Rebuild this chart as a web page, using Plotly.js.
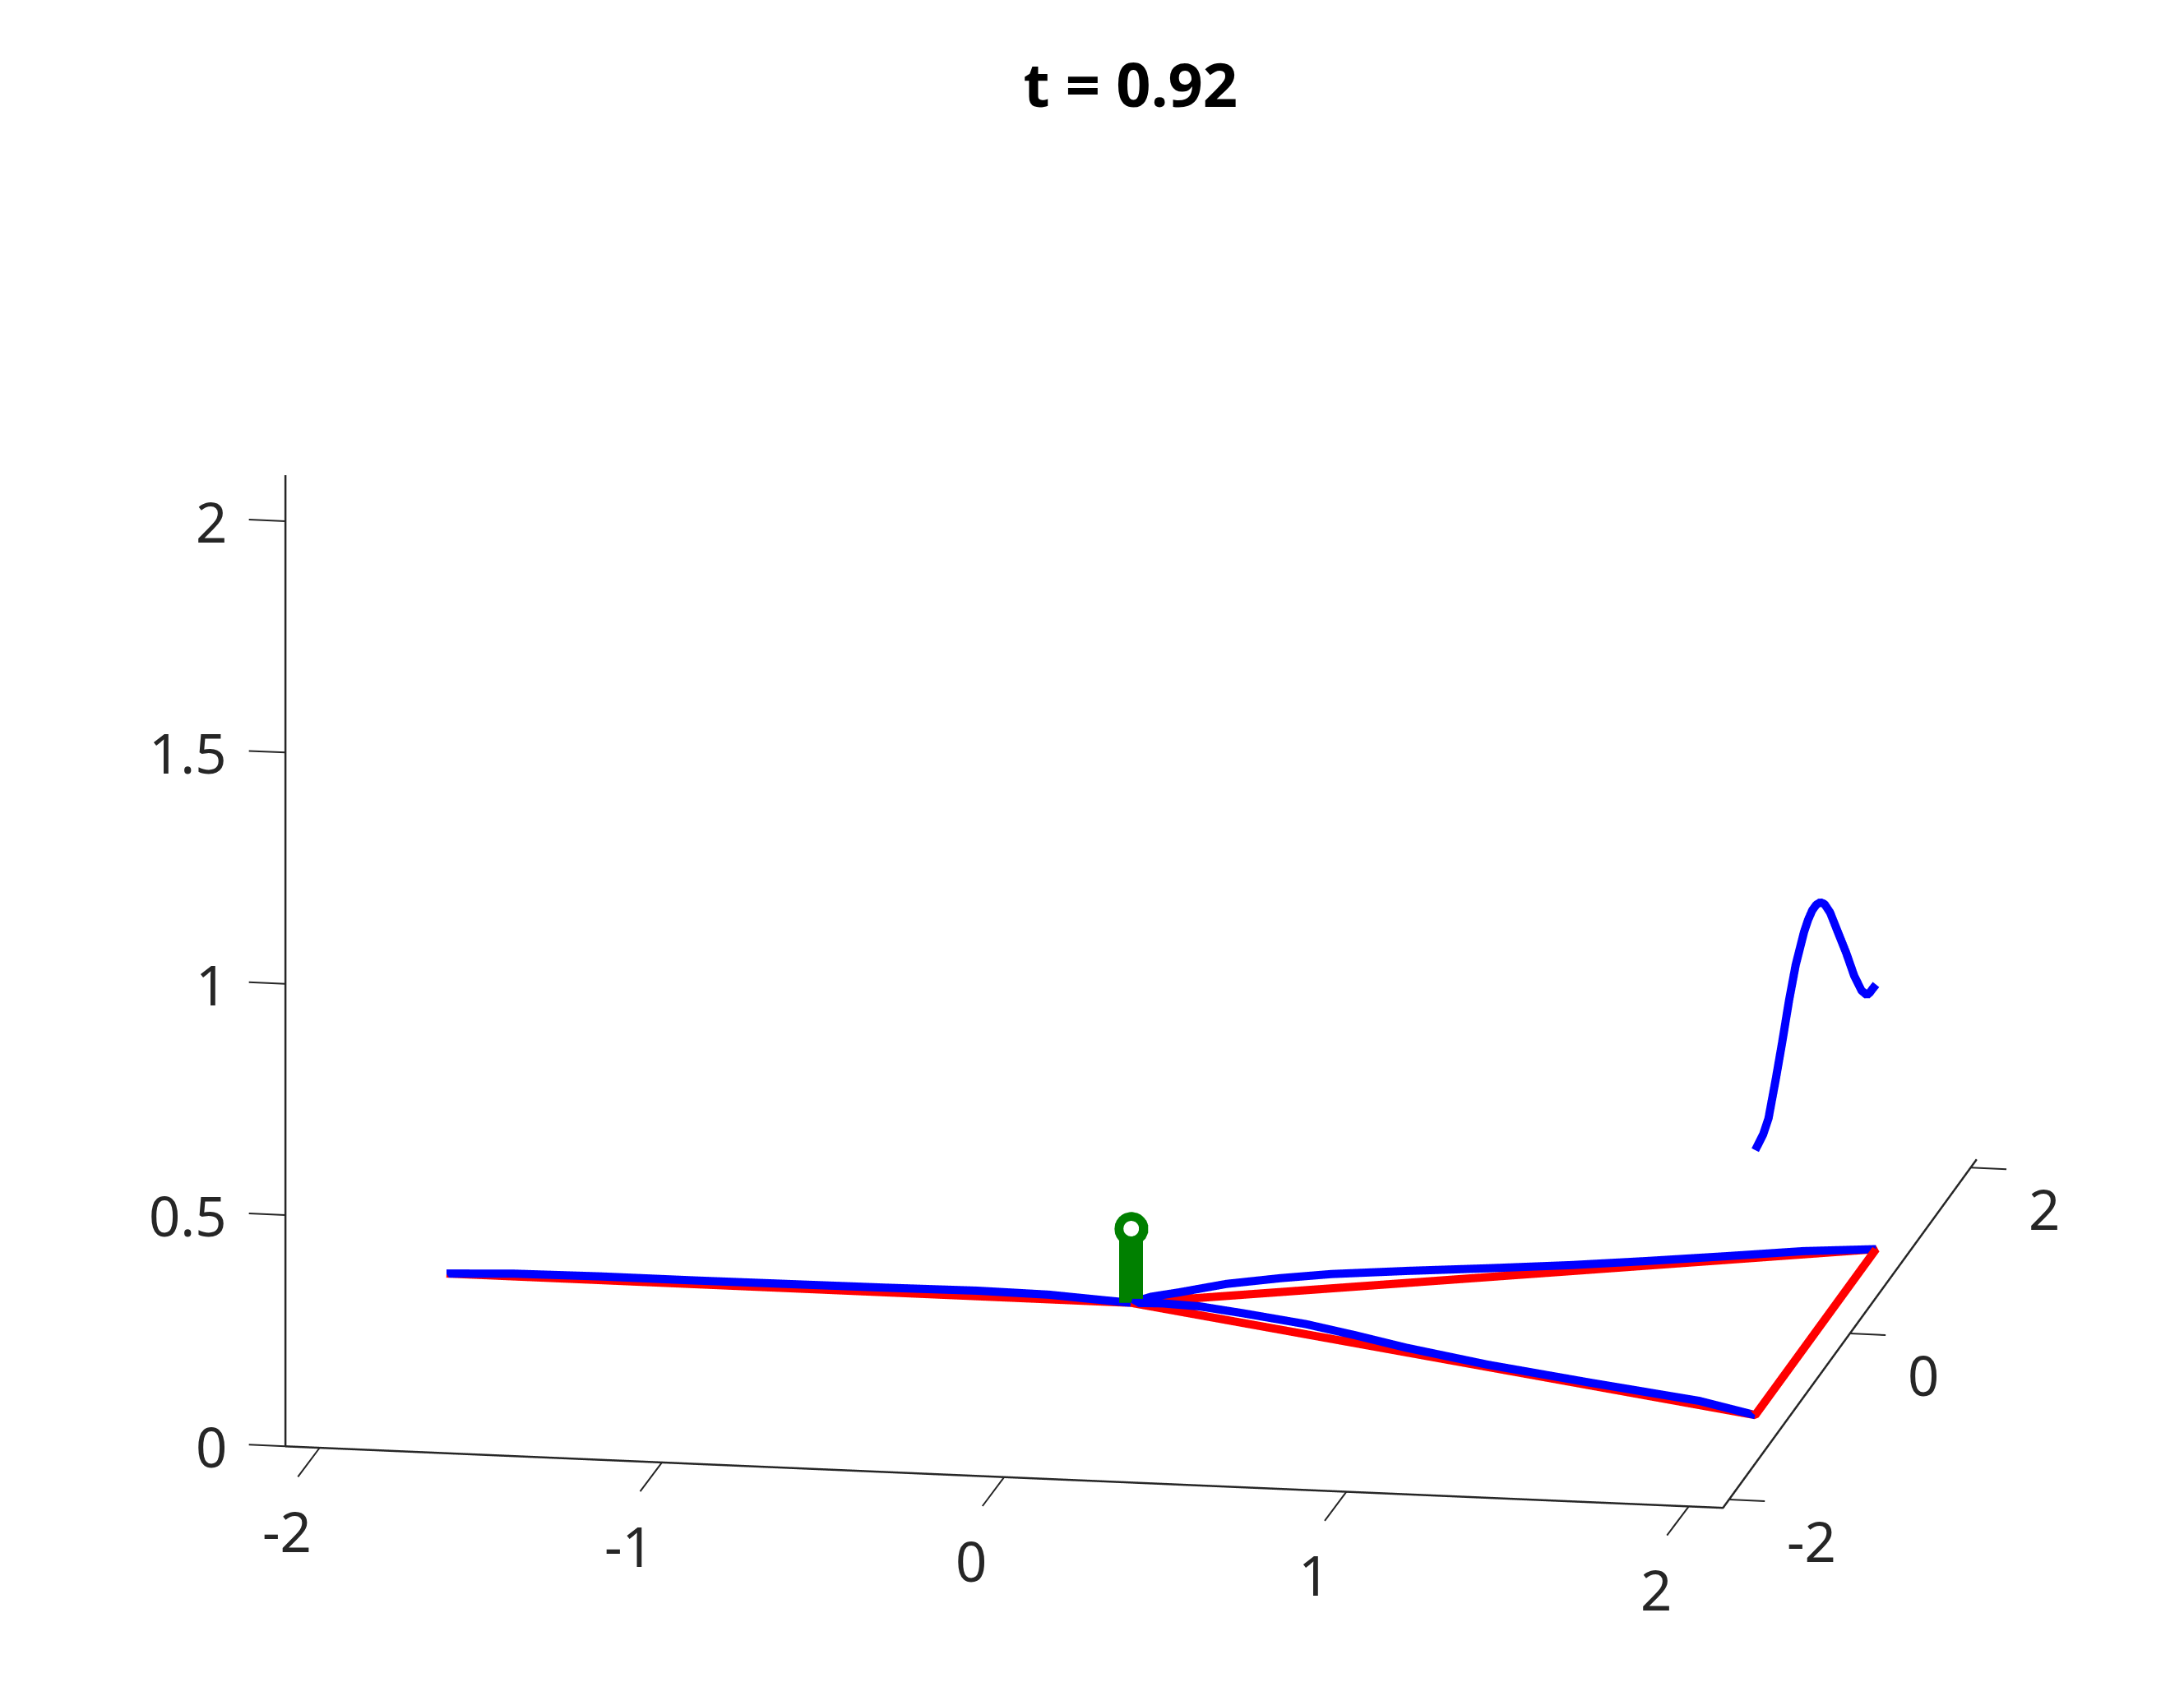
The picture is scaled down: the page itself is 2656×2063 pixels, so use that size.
<!DOCTYPE html>
<html>
<head>
<meta charset="utf-8">
<script src="https://cdn.plot.ly/plotly-3.0.1.min.js"></script>
<style>
  html, body { margin: 0; padding: 0; background: #ffffff; }
  #chart { width: 2656px; height: 2063px; }
</style>
</head>
<body>
<div id="chart"></div>
<script>
// ---------- data ----------
// reference (red) configuration: left string, two right strings and the link between supports
const redX = [-2, 0, 2, 2, 0];
const redY = [0, 0, -1, 1, 0];
const redZ = [0, 0, 0, 0, 0];

// displaced (blue) strings
const leftX = [-2, -1.8, -1.55, -1.27, -1.0, -0.72, -0.45, -0.24, -0.1, 0];
const leftY = [0, 0, 0, 0, 0, 0, 0, 0, 0, 0];
const leftZ = [0, 0.006, 0.008, 0.008, 0.009, 0.010, 0.012, 0.010, 0.004, 0];

const upperX = [0, 0.054, 0.128, 0.186, 0.256, 0.4, 0.538, 0.74, 0.96, 1.18, 1.382, 1.6, 1.804, 2];
const upperY = [0, 0.027, 0.064, 0.093, 0.128, 0.2, 0.269, 0.37, 0.48, 0.59, 0.691, 0.8, 0.902, 1];
const upperZ = [0, 0.010, 0.015, 0.020, 0.026, 0.030, 0.031, 0.026, 0.019, 0.013, 0.010, 0.008, 0.007, 0];

const lowerX = [0, 0.1, 0.22, 0.36, 0.56, 0.72, 0.88, 1.14, 1.48, 1.82, 2];
const lowerY = [0, -0.05, -0.11, -0.18, -0.28, -0.36, -0.44, -0.57, -0.74, -0.91, -1];
const lowerZ = [0, 0.011, 0.019, 0.021, 0.022, 0.017, 0.010, 0.005, 0.006, 0.009, 0];

// raised wave along the right-hand link
const waveX = [2, 2, 2, 2, 2, 2, 2, 2, 2, 2, 2, 2, 2, 2, 2, 2, 2, 2, 2, 2, 2, 2, 2];
const waveY = [-1, -0.87, -0.78, -0.66, -0.55, -0.44, -0.33, -0.19, -0.123, -0.055, 0.012, 0.08, 0.147, 0.24, 0.305, 0.37, 0.51, 0.64, 0.76, 0.85, 0.9, 0.94, 1];
const waveZ = [0.573, 0.583, 0.602, 0.665, 0.728, 0.796, 0.853, 0.900, 0.914, 0.922, 0.922, 0.915, 0.899, 0.864, 0.831, 0.798, 0.727, 0.655, 0.602, 0.576, 0.573, 0.573, 0.572];

// green stem at the junction
const stemX = [0];
const stemY = [0];
const stemZ = [0.161];
const stemBase = 0;

// axes
const xRange = [-2.1, 2.1];
const yRange = [-2.1, 2.1];
const zRange = [0, 2.1];
const xTicks = [-2, -1, 0, 1, 2];
const xTickText = ['-2', '-1', '0', '1', '2'];
const yTicks = [-2, 0, 2];
const yTickText = ['-2', '0', '2'];
const zTicks = [0, 0.5, 1, 1.5, 2];
const zTickText = ['0', '0.5', '1', '1.5', '2'];
const titleText = 't = 0.92';

// ---------- styles ----------
const RED = '#ff0000', BLUE = '#0000ff', GREEN = '#008000';
const AX = '#262626';
const FONT = 'Noto Sans, Open Sans, DejaVu Sans, sans-serif';
const LW = 20;        // data line width (gl units)
const AXW = 5;        // axis line width (gl units)

function line3d(x, y, z, color, width) {
  return { type: 'scatter3d', mode: 'lines', x: x, y: y, z: z,
           line: { color: color, width: width }, hoverinfo: 'skip' };
}

const traces = [
  // MATLAB-style axis lines (x, y and z) on the front/left edges of the box
  line3d([xRange[0], xRange[1], xRange[1]], [yRange[0], yRange[0], yRange[1]],
         [zRange[0], zRange[0], zRange[0]], AX, AXW),
  line3d([xRange[0], xRange[0]], [yRange[0], yRange[0]], [zRange[0], zRange[1]], AX, AXW),
  // data
  line3d(redX, redY, redZ, RED, LW),
  line3d(leftX, leftY, leftZ, BLUE, LW),
  line3d(upperX, upperY, upperZ, BLUE, LW),
  line3d(lowerX, lowerY, lowerZ, BLUE, LW),
  line3d(waveX, waveY, waveZ, BLUE, LW),
  line3d([stemX[0], stemX[0]], [stemY[0], stemY[0]], [stemBase, stemZ[0]], GREEN, 58),
  { type: 'scatter3d', mode: 'markers', x: stemX, y: stemY, z: stemZ,
    marker: { color: GREEN, size: 24, symbol: 'circle', line: { width: 0 } }, hoverinfo: 'skip' },
  { type: 'scatter3d', mode: 'markers', x: stemX, y: stemY, z: stemZ,
    marker: { color: '#ffffff', size: 11, symbol: 'circle', line: { width: 0 } }, hoverinfo: 'skip' }
];

// ---------- tick marks and labels as scene annotations ----------
const tickFont = { family: FONT, size: 67, color: AX };
const annotations = [];
function addTick(x, y, z, ax, ay) {
  annotations.push({ x: x, y: y, z: z, text: ' ', showarrow: true, arrowhead: 0,
    arrowwidth: 2, arrowcolor: AX, ax: ax, ay: ay, standoff: 0, startstandoff: 0,
    font: { size: 1 }, borderpad: 0 });
}
function addLabel(x, y, z, text, xanchor, xshift, yshift) {
  annotations.push({ x: x, y: y, z: z, text: text, showarrow: false,
    xanchor: xanchor, yanchor: 'middle', xshift: xshift, yshift: yshift, font: tickFont });
}
xTicks.forEach(function (t, i) {
  addTick(t, yRange[0], zRange[0], -27, 36);
  addLabel(t, yRange[0], zRange[0], xTickText[i], 'center', -40, -101);
});
yTicks.forEach(function (t, i) {
  addTick(xRange[1], t, zRange[0], 44, 2);
  addLabel(xRange[1], t, zRange[0], yTickText[i], 'left', 68, -50);
});
zTicks.forEach(function (t, i) {
  addTick(xRange[0], yRange[0], t, -45, -2);
  addLabel(xRange[0], yRange[0], t, zTickText[i], 'right', -69, 0);
});

function axis(range) {
  return {
    range: range, autorange: false,
    showticklabels: false, ticks: '',
    showgrid: false, zeroline: false, showbackground: false, showline: false,
    showspikes: false, title: { text: '' }
  };
}

const dir = [0.1686, -0.9553, 0.2425];
const dist = 5;
const zoom = 1.786;

const layout = {
  width: 2656, height: 2063,
  margin: { l: 0, r: 0, t: 0, b: 0 },
  paper_bgcolor: '#ffffff',
  showlegend: false,
  hovermode: false,
  title: {
    text: '<b>' + titleText + '</b>',
    font: { family: FONT, size: 74, color: '#000000' },
    x: 0.5176, xanchor: 'center', y: 0.9496, yanchor: 'middle'
  },
  scene: {
    domain: { x: [0.0358, 1], y: [0.0364, 1] },
    aspectmode: 'manual',
    aspectratio: { x: zoom, y: zoom, z: 0.686 * zoom },
    xaxis: axis(xRange),
    yaxis: axis(yRange),
    zaxis: axis(zRange),
    camera: {
      eye: { x: dir[0] * dist, y: dir[1] * dist, z: dir[2] * dist },
      up: { x: 0, y: 0, z: 1 },
      center: { x: 0, y: 0, z: 0 },
      projection: { type: 'orthographic' }
    },
    annotations: annotations
  }
};

Plotly.newPlot('chart', traces, layout, { displayModeBar: false });
</script>
</body>
</html>
